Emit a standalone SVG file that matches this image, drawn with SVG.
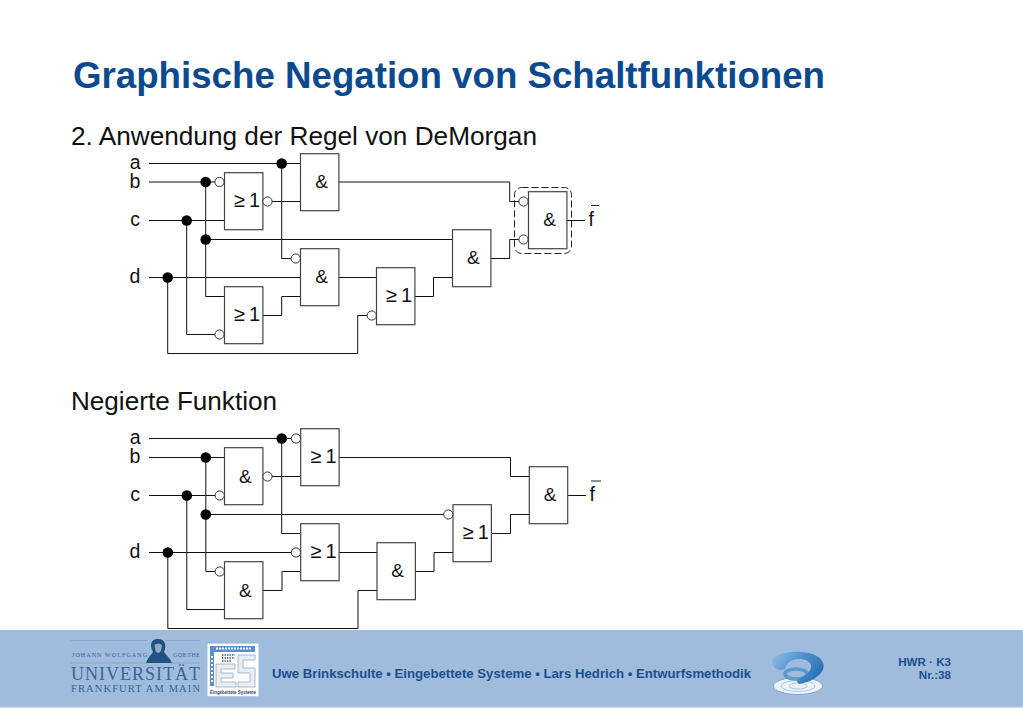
<svg xmlns="http://www.w3.org/2000/svg" width="1023" height="708" viewBox="0 0 1023 708">
<style>
text{font-family:"Liberation Sans",Arial,sans-serif}
.g{fill:#fff;stroke:#444;stroke-width:1.2}
.w{fill:none;stroke:#111;stroke-width:1}
.d{fill:#000;stroke:none}
.b{fill:#fff;stroke:#333;stroke-width:1}
.l{font-size:19.500px;fill:#111}
.s{font-size:19px;fill:#111;text-anchor:middle}
.o{font-size:20px;fill:#111}
.h{font-size:26px;fill:#111}
.ft{font-weight:bold;fill:#1c4f8e}
.u{font-family:"Liberation Serif",serif;fill:#3a6499}
</style>
<defs>
<linearGradient id="sw" x1="0" y1="0" x2="1" y2="0.400"><stop offset="0" stop-color="#8fbde3"/><stop offset=".55" stop-color="#4f93cf"/><stop offset="1" stop-color="#2f74b5"/></linearGradient>
<filter id="soft"><feGaussianBlur stdDeviation=".35"/></filter>
</defs>
<rect width="1023" height="708" fill="#fff"/>
<text x="73" y="87.500" font-size="36.500" font-weight="bold" fill="#0c4a8f" textLength="752" lengthAdjust="spacingAndGlyphs">Graphische Negation von Schaltfunktionen</text>
<text class="h" x="71" y="145" textLength="466" lengthAdjust="spacingAndGlyphs">2. Anwendung der Regel von DeMorgan</text>
<text class="h" x="71" y="410" textLength="206" lengthAdjust="spacingAndGlyphs">Negierte Funktion</text>

<g id="connectors">
<path class="w" d="M149 163.500H300.500M149 182H224M149 220.500H224.500M149 277.500H300.500M281.700 163.500V258.500H291M205.700 182V296.500H224.500M205.700 239.500H452.500M186.700 220.500V334.500H215M167.700 277.500V353.500H357.700V315.500H367M272 201.500H300.500M263 315.500H281.700V296.500H300.500M338.700 182H509.700V201.500H519M338.700 277.500H376.500M414.700 296.500H433.500V277.500H452.500M490.700 258.500H509.700V239.500H519M566.700 220.500H585"/>
<path class="w" d="M149 438.500H291M149 457.500H224.500M149 495.500H215M149 552.500H291M281.700 438.500V533.500H300.500M205.800 457.500V571.500H215M205.800 514.500H444M186.800 495.500V609.500H224.500M167.800 552.500V628.500H358V590.500H377M272 476.500H300.500M263 590.500H282V571.500H300.500M339 457.500H510.500V476.500H529M339 552.500H377M415.300 571.500H434V552.500H453M491.300 533.500H510.500V514.500H529M567.300 495.500H586"/>
<rect x="514.500" y="187.500" width="57" height="66" rx="7" fill="none" stroke="#222" stroke-width="1" stroke-dasharray="7 3"/>
<g class="d">
<circle cx="281.700" cy="163.500" r="5.300"/><circle cx="205.700" cy="182" r="5.300"/><circle cx="186.700" cy="220.500" r="5.300"/><circle cx="205.700" cy="239.500" r="5.300"/><circle cx="167.700" cy="277.500" r="5.300"/>
<circle cx="281.700" cy="438.500" r="5.300"/><circle cx="205.800" cy="457.500" r="5.300"/><circle cx="186.800" cy="495.500" r="5.300"/><circle cx="205.800" cy="514.500" r="5.300"/><circle cx="167.800" cy="552.500" r="5.300"/>
</g>
</g>

<g id="labels-top">
<text class="l" x="129.800" y="169">a</text><text class="l" x="129.500" y="187.500">b</text><text class="l" x="130.300" y="225.500">c</text><text class="l" x="129.500" y="282.500">d</text>
<text class="l" x="588.500" y="225.500">f</text><path d="M591 205.500H599" stroke="#222" stroke-width="1"/>
</g>
<g id="labels-bottom">
<text class="l" x="129.800" y="444">a</text><text class="l" x="129.500" y="462.500">b</text><text class="l" x="130.300" y="500.500">c</text><text class="l" x="129.500" y="557.500">d</text>
<text class="l" x="589.500" y="500.500">f</text><path d="M591 481H601" stroke="#222" stroke-width="1"/>
</g>

<g id="t-or1"><rect class="g" x="224.500" y="172.700" width="38.400" height="57"/><circle class="b" cx="219.500" cy="182" r="4.600"/><circle class="b" cx="267.500" cy="201.500" r="4.600"/><text class="o" y="206.700"><tspan x="233.700">≥</tspan><tspan x="249">1</tspan></text></g>
<g id="t-and1"><rect class="g" x="300.500" y="153.700" width="38.400" height="57"/><text class="s" x="321.500" y="188">&amp;</text></g>
<g id="t-and2"><rect class="g" x="300.500" y="248.700" width="38.400" height="57"/><circle class="b" cx="295.700" cy="258.500" r="4.600"/><text class="s" x="321.500" y="283">&amp;</text></g>
<g id="t-or2"><rect class="g" x="224.500" y="286.700" width="38.400" height="57"/><circle class="b" cx="219.500" cy="334.500" r="4.600"/><text class="o" y="320.700"><tspan x="233.700">≥</tspan><tspan x="249">1</tspan></text></g>
<g id="t-or3"><rect class="g" x="376.500" y="267.700" width="38.400" height="57"/><circle class="b" cx="371.700" cy="315.500" r="4.600"/><text class="o" y="302"><tspan x="385.700">≥</tspan><tspan x="401">1</tspan></text></g>
<g id="t-and3"><rect class="g" x="452.500" y="229.700" width="38.400" height="57"/><text class="s" x="473.300" y="263.700">&amp;</text></g>
<g id="t-and4"><rect class="g" x="528.500" y="191.700" width="38.400" height="57"/><circle class="b" cx="523.500" cy="201.500" r="4.600"/><circle class="b" cx="523.500" cy="239.500" r="4.600"/><text class="s" x="549.500" y="225.700">&amp;</text></g>

<g id="b-and1"><rect class="g" x="224.500" y="447.700" width="38.400" height="57"/><circle class="b" cx="219.700" cy="495.500" r="4.600"/><circle class="b" cx="267.500" cy="476.500" r="4.600"/><text class="s" x="245.300" y="482.500">&amp;</text></g>
<g id="b-or1"><rect class="g" x="300.700" y="428.700" width="38.400" height="57"/><circle class="b" cx="296" cy="438.500" r="4.600"/><text class="o" y="462.700"><tspan x="310.200">≥</tspan><tspan x="325.500">1</tspan></text></g>
<g id="b-or2"><rect class="g" x="300.700" y="523.700" width="38.400" height="57"/><circle class="b" cx="296" cy="552.500" r="4.600"/><text class="o" y="557.700"><tspan x="310.200">≥</tspan><tspan x="325.500">1</tspan></text></g>
<g id="b-and2"><rect class="g" x="224.500" y="561.700" width="38.400" height="57"/><circle class="b" cx="219.700" cy="571.500" r="4.600"/><text class="s" x="245.300" y="596.500">&amp;</text></g>
<g id="b-and3"><rect class="g" x="377" y="542.700" width="38.400" height="57"/><text class="s" x="397.700" y="577">&amp;</text></g>
<g id="b-or3"><rect class="g" x="453" y="504.700" width="38.400" height="57"/><circle class="b" cx="448.300" cy="514.500" r="4.600"/><text class="o" y="539.300"><tspan x="462.400">≥</tspan><tspan x="477.700">1</tspan></text></g>
<g id="b-and4"><rect class="g" x="529.300" y="466.700" width="38.400" height="57"/><text class="s" x="550" y="501">&amp;</text></g>

<g id="footer">
<rect y="630" width="1023" height="78" fill="#9fbcdc"/>
<rect y="706.500" width="1023" height="1.500" fill="#c3d5e9"/>
<g id="uni-logo">
<path d="M71 640.500H148M166 640.500H200M71 663H147M171 663H200" stroke="#7f9fc8" stroke-width=".7"/>
<text class="u" x="72" y="656.500" font-size="6" textLength="75">JOHANN WOLFGANG</text>
<text class="u" x="173" y="656.500" font-size="6" textLength="27">GOETHE</text>
<text class="u" x="71" y="680" font-size="18" textLength="129">UNIVERSITÄT</text>
<text class="u" x="71" y="692" font-size="10.500" textLength="129">FRANKFURT AM MAIN</text>
<g filter="url(#soft)">
<path d="M146 663C148 657 151 655 153 652C149 645 151 639 158 639C165 639 167 645 164 652C166 655 170 658 172 663Z" fill="#24527f"/>
<path d="M154.500 645Q158 642 162 645L161 651Q158 655 155.500 651Z" fill="#8fa9c6"/>
</g>
</g>
<g id="es-logo">
<rect x="207.500" y="643.700" width="51" height="52.500" fill="#fff"/>
<path d="M210 646H255V652H214V686H210Z" fill="#5d90c8"/>
<path d="M216 648.500H252" stroke="#fff" stroke-width="2" stroke-dasharray="2 1"/>
<path d="M212 656V684" stroke="#fff" stroke-width="2" stroke-dasharray="2 2"/>
<g fill="#e8eef6" stroke="#9aa8b8" stroke-width=".8">
<path d="M216 664H235V669H221V673H233V678H221V682H236V687H216Z"/>
<path d="M238 655H255V660H243V668H255V687H238V682H250V673H238Z"/>
</g>
<path d="M222 655H235M222 658H235M222 661H232" stroke="#4a5a70" stroke-width="1.500" stroke-dasharray="1.500 1"/>
<text x="233" y="693.500" font-size="5" font-weight="bold" fill="#334a66" text-anchor="middle" textLength="46" lengthAdjust="spacingAndGlyphs">Eingebettete Systeme</text>
</g>
<text class="ft" x="272" y="678" font-size="12.600" textLength="479" lengthAdjust="spacingAndGlyphs">Uwe Brinkschulte • Eingebettete Systeme • Lars Hedrich • Entwurfsmethodik</text>
<g id="swirl" filter="url(#soft)">
<ellipse cx="798" cy="686" rx="24.500" ry="8.500" fill="#eef4fa" stroke="#7da6cf"/>
<ellipse cx="798" cy="686" rx="17" ry="5.500" fill="none" stroke="#a9c6e2"/>
<ellipse cx="798" cy="686" rx="9" ry="3" fill="none" stroke="#a9c6e2"/>
<ellipse cx="796" cy="674" rx="11" ry="5" fill="none" stroke="#5a9ad0" stroke-width="3.500"/>
<path d="M775 668C771 664 771 659 776 656C786 651 804 650 815 655C825 660 826 668 820 674C814 680 806 683 799 684C796 682 797 680 799 679C806 676 812 670 811 665C809 659 798 657 791 661C787 663 786 666 785 669C781 671 778 670 775 668Z" fill="url(#sw)"/>
</g>
<text class="ft" x="951" y="666" font-size="11.600" text-anchor="end">HWR · K3</text>
<text class="ft" x="951" y="679" font-size="11.600" text-anchor="end">Nr.:38</text>
</g>
</svg>
